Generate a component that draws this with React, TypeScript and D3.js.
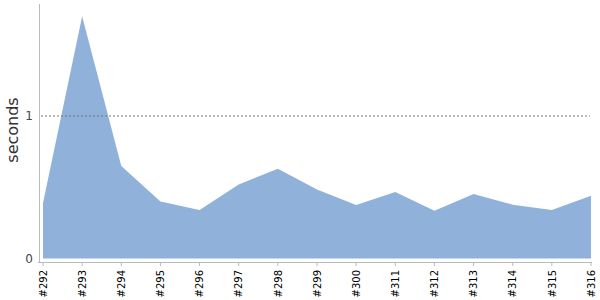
import React from "react";
import * as d3 from "d3";

const builds = ["#292", "#293", "#294", "#295", "#296", "#297", "#298", "#299", "#300", "#311", "#312", "#313", "#314", "#315", "#316"];
const durations = [0.39, 1.70, 0.65, 0.40, 0.34, 0.52, 0.63, 0.485, 0.375, 0.467, 0.335, 0.453, 0.378, 0.34, 0.44];
const yTicks = [0, 1];
const yMax = 1.786;

export default function App() {
  const W = 600, H = 300;
  const x = d3.scalePoint<string>().domain(builds).range([43, 591]);
  const y = d3.scaleLinear().domain([0, yMax]).range([258.5, 4]);
  const area = d3
    .area<number>()
    .x((_, i) => x(builds[i]) as number)
    .y0(y(0))
    .y1((d) => y(d));
  const font = "DejaVu Sans, Verdana, sans-serif";
  return (
    <svg width={W} height={H} style={{ position: "absolute", left: 0, top: 0, background: "#fff" }}>
      <path d={area(durations) || ""} fill="#90b2da" />
      {yTicks.filter((t) => t > 0).map((t) => (
        <line key={t} x1={41} x2={590} y1={y(t)} y2={y(t)} stroke="#777" strokeDasharray="2,2" strokeWidth={1} />
      ))}
      <line x1={39.5} x2={39.5} y1={4} y2={262} stroke="#bbb" />
      <line x1={38} x2={592} y1={262.5} y2={262.5} stroke="#bbb" />
      {builds.map((b) => (
        <g key={b} transform={`translate(${x(b)},0)`}>
          <line x1={0} x2={0} y1={262} y2={266} stroke="#bbb" />
          <text
            transform={`translate(3.7,270) rotate(-90)`}
            textAnchor="end"
            fontFamily={font}
            fontSize={10}
            fill="#000"
          >
            {b}
          </text>
        </g>
      ))}
      {yTicks.map((t) => (
        <text key={t} x={33} y={y(t)} dy="0.35em" textAnchor="end" fontFamily={font} fontSize={12} fill="#444">
          {t}
        </text>
      ))}
      <text
        transform={`translate(18.3,${130}) rotate(-90)`}
        textAnchor="middle"
        fontFamily={font}
        fontSize={16}
        fill="#333"
      >
        seconds
      </text>
    </svg>
  );
}
